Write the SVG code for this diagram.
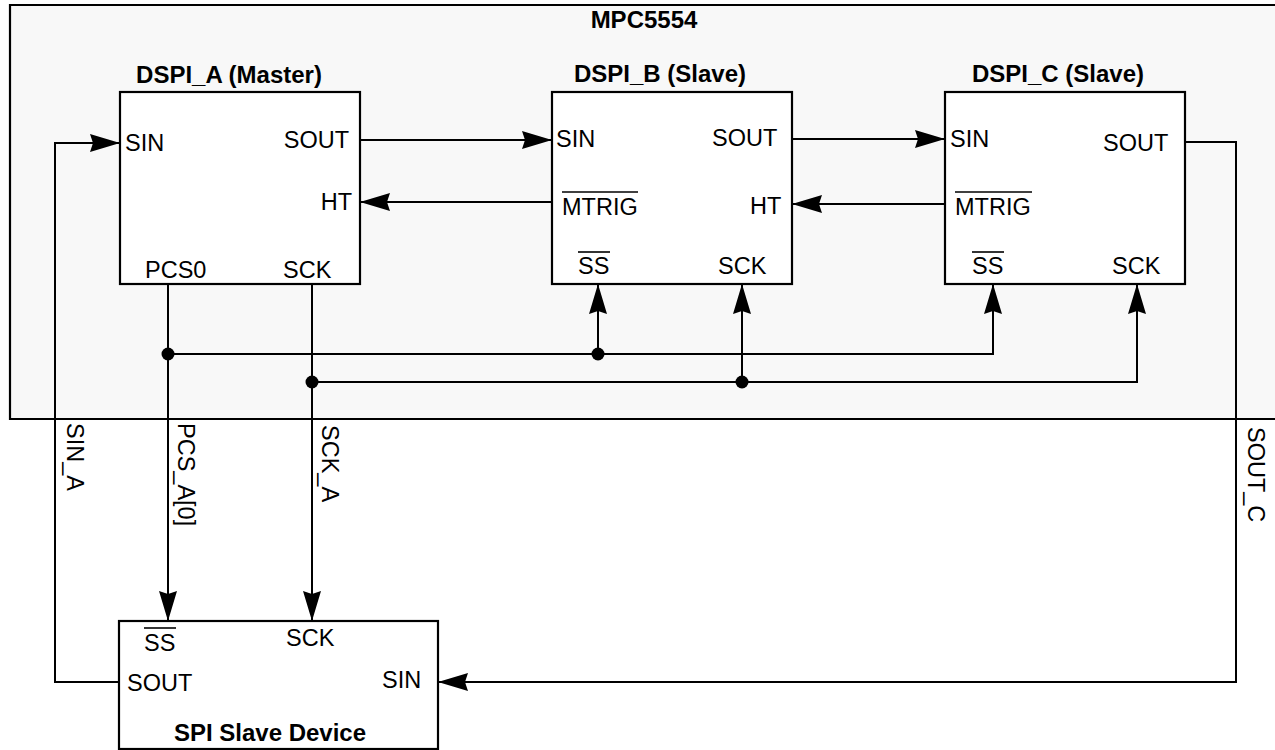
<svg xmlns="http://www.w3.org/2000/svg" width="1275" height="750" viewBox="0 0 1275 750">
<style>
text{font-family:"Liberation Sans",Arial,sans-serif;font-size:23.5px;fill:#000}
.b{font-weight:bold;font-size:24px}
.box{fill:#fff;stroke:#000;stroke-width:2.2}
.w{fill:none;stroke:#000;stroke-width:2}
.ol{stroke:#000;stroke-width:1.6}
.m{text-anchor:middle}
.e{text-anchor:end}
</style>
<defs>
<marker id="ah" viewBox="-30 -10 30 20" refX="0" refY="0" markerWidth="30" markerHeight="20" markerUnits="userSpaceOnUse" orient="auto">
<path d="M0,0 L-30,-9 L-27,0 L-30,9 Z" fill="#000"/>
</marker>
</defs>
<g id="mpc5554">
<path d="M1275,5 H10 V419 H1275" fill="#f8f8f8" stroke="#000" stroke-width="2.2"/>
<text class="b m" x="644" y="28">MPC5554</text>
</g>
<g id="dspi_a">
<rect class="box" x="120" y="92" width="240" height="192"/>
<text class="b m" x="229" y="83">DSPI_A (Master)</text>
<text x="125" y="151">SIN</text>
<text class="e" x="349" y="148">SOUT</text>
<text class="e" x="352" y="210">HT</text>
<text x="145" y="278">PCS0</text>
<text x="283" y="278">SCK</text>
</g>
<g id="dspi_b">
<rect class="box" x="552" y="92" width="240" height="192"/>
<text class="b m" x="660" y="82">DSPI_B (Slave)</text>
<text x="556" y="147">SIN</text>
<text x="712" y="146">SOUT</text>
<text x="562" y="215">MTRIG</text>
<line class="ol" x1="562" y1="192" x2="638" y2="192"/>
<text x="750" y="214">HT</text>
<text x="578" y="274">SS</text>
<line class="ol" x1="578" y1="252" x2="610" y2="252"/>
<text x="718" y="274">SCK</text>
</g>
<g id="dspi_c">
<rect class="box" x="945" y="92" width="240" height="192"/>
<text class="b m" x="1058" y="82">DSPI_C (Slave)</text>
<text x="950" y="147">SIN</text>
<text x="1103" y="151">SOUT</text>
<text x="955" y="215">MTRIG</text>
<line class="ol" x1="955" y1="192" x2="1032" y2="192"/>
<text x="972" y="274">SS</text>
<line class="ol" x1="972" y1="252" x2="1004" y2="252"/>
<text x="1112" y="274">SCK</text>
</g>
<g id="spi_slave">
<rect class="box" x="119" y="621" width="319" height="128"/>
<text x="144" y="651">SS</text>
<line class="ol" x1="144" y1="628" x2="176" y2="628"/>
<text x="286" y="646">SCK</text>
<text x="127" y="691">SOUT</text>
<text x="382" y="688">SIN</text>
<text class="b m" x="270" y="741">SPI Slave Device</text>
</g>
<g id="connectors">
<path class="w" d="M119,682 H55 V143 H120" marker-end="url(#ah)"/>
<path class="w" d="M360,140 H552" marker-end="url(#ah)"/>
<path class="w" d="M552,202 H360" marker-end="url(#ah)"/>
<path class="w" d="M792,139 H945" marker-end="url(#ah)"/>
<path class="w" d="M945,204 H792" marker-end="url(#ah)"/>
<path class="w" d="M1185,142 H1236 V682 H438" marker-end="url(#ah)"/>
<path class="w" d="M168,284 V621" marker-end="url(#ah)"/>
<path class="w" d="M312,284 V621" marker-end="url(#ah)"/>
<path class="w" d="M168,354 H993 V284" marker-end="url(#ah)"/>
<path class="w" d="M598,354 V284" marker-end="url(#ah)"/>
<path class="w" d="M312,382 H1137 V284" marker-end="url(#ah)"/>
<path class="w" d="M742,382 V284" marker-end="url(#ah)"/>
<circle cx="168" cy="354" r="6.5"/>
<circle cx="598" cy="354" r="6.5"/>
<circle cx="312" cy="382" r="6.5"/>
<circle cx="742" cy="382" r="6.5"/>
<text transform="translate(67,423) rotate(90)">SIN_A</text>
<text transform="translate(178,423) rotate(90)">PCS_A[0]</text>
<text transform="translate(322,425) rotate(90)">SCK_A</text>
<text transform="translate(1248,427) rotate(90)">SOUT_C</text>
</g>
</svg>
